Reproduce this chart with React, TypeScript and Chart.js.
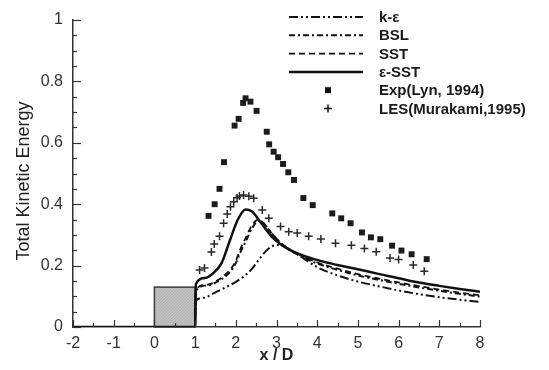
import React, { useEffect, useRef } from 'react';
import { Chart, registerables } from 'chart.js';

Chart.register(...registerables);

// Model curves: total kinetic energy along the wake centreline
const kEpsX = [1, 1.02, 1.2, 1.5, 1.7, 2.0, 2.2, 2.4, 2.6, 2.8, 3.0, 3.2, 3.5, 4.0, 4.5, 5.0, 5.5, 6.0, 6.5, 7.0, 7.5, 8.0];
const kEpsY = [0, 0.085, 0.095, 0.113, 0.126, 0.147, 0.165, 0.19, 0.225, 0.255, 0.267, 0.262, 0.238, 0.195, 0.168, 0.148, 0.133, 0.119, 0.107, 0.097, 0.089, 0.082];

const bslX = [1, 1.02, 1.3, 1.55, 1.85, 2.0, 2.1, 2.25, 2.4, 2.55, 2.7, 2.9, 3.2, 3.5, 4.0, 4.5, 5.0, 5.5, 6.0, 6.5, 7.0, 7.5, 8.0];
const bslY = [0, 0.118, 0.135, 0.148, 0.178, 0.208, 0.24, 0.28, 0.322, 0.345, 0.335, 0.302, 0.262, 0.237, 0.207, 0.186, 0.168, 0.154, 0.141, 0.129, 0.118, 0.108, 0.099];

const sstX = [1, 1.02, 1.3, 1.55, 1.85, 2.0, 2.1, 2.25, 2.4, 2.55, 2.7, 2.9, 3.2, 3.5, 4.0, 4.5, 5.0, 5.5, 6.0, 6.5, 7.0, 7.5, 8.0];
const sstY = [0, 0.122, 0.138, 0.152, 0.185, 0.215, 0.25, 0.292, 0.332, 0.35, 0.336, 0.302, 0.264, 0.24, 0.21, 0.19, 0.172, 0.158, 0.145, 0.133, 0.122, 0.112, 0.103];

const eSstX = [-2, 1, 1.02, 1.25, 1.45, 1.65, 1.85, 2.05, 2.24, 2.4, 2.6, 2.9, 3.3, 3.9, 4.5, 5.0, 5.5, 6.0, 6.5, 7.0, 7.5, 8.0];
const eSstY = [0, 0, 0.14, 0.16, 0.176, 0.208, 0.28, 0.35, 0.383, 0.376, 0.343, 0.292, 0.253, 0.222, 0.202, 0.188, 0.173, 0.159, 0.145, 0.134, 0.124, 0.115];

// Measurements and LES reference data
const expX = [1.33, 1.48, 1.6, 1.71, 1.97, 2.07, 2.18, 2.24, 2.36, 2.51, 2.76, 2.82, 2.93, 3.04, 3.16, 3.29, 3.43, 3.66, 3.89, 4.37, 4.59, 4.82, 5.1, 5.32, 5.55, 5.84, 6.07, 6.32, 6.69];
const expY = [0.362, 0.4, 0.45, 0.537, 0.656, 0.678, 0.73, 0.745, 0.734, 0.704, 0.636, 0.595, 0.571, 0.553, 0.531, 0.504, 0.479, 0.42, 0.397, 0.37, 0.354, 0.338, 0.308, 0.292, 0.286, 0.265, 0.249, 0.237, 0.221];

const lesX = [1.11, 1.23, 1.4, 1.47, 1.6, 1.7, 1.79, 1.87, 1.95, 2.03, 2.09, 2.19, 2.32, 2.44, 2.65, 2.81, 3.1, 3.3, 3.51, 3.79, 4.09, 4.45, 4.84, 5.16, 5.45, 5.79, 6.0, 6.36, 6.63];
const lesY = [0.186, 0.192, 0.244, 0.27, 0.296, 0.338, 0.368, 0.392, 0.408, 0.421, 0.427, 0.43, 0.426, 0.419, 0.381, 0.354, 0.327, 0.31, 0.306, 0.296, 0.287, 0.273, 0.266, 0.256, 0.245, 0.225, 0.22, 0.202, 0.182];

const seriesLabels = ['k-\u03b5', 'BSL', 'SST', '\u03b5-SST', 'Exp(Lyn, 1994)', 'LES(Murakami,1995)'];
const yTitle = 'Total Kinetic Energy';
const xTitle = 'x / D';

// Axis ranges and the square cylinder (x from 0 to 1)
const xRange = [-2, 8];
const yRange = [0, 1];
const bodyX = [0, 1];
const bodyTop = 0.13;

const FONT = '"Liberation Sans", Arial, sans-serif';

const pts = (xs: number[], ys: number[]) => xs.map((x, i) => ({ x, y: ys[i] }));

// Square cylinder drawn as a shaded block behind the curves
const bodyPlugin = {
  id: 'body',
  beforeDatasetsDraw(chart: any) {
    const { ctx, scales } = chart;
    const x0 = scales.x.getPixelForValue(bodyX[0]);
    const x1 = scales.x.getPixelForValue(bodyX[1]);
    const y0 = scales.y.getPixelForValue(0);
    const y1 = scales.y.getPixelForValue(bodyTop);
    ctx.save();
    ctx.fillStyle = '#c4c4c4';
    ctx.fillRect(x0, y1, x1 - x0, y0 - y1);
    ctx.beginPath();
    ctx.rect(x0, y1, x1 - x0, y0 - y1);
    ctx.clip();
    ctx.strokeStyle = '#a8a8a8';
    ctx.lineWidth = 1;
    for (let s = -60; s < 120; s += 3) {
      ctx.beginPath();
      ctx.moveTo(x0 + s, y0);
      ctx.lineTo(x0 + s + (y0 - y1), y1);
      ctx.stroke();
    }
    ctx.restore();
    ctx.save();
    ctx.strokeStyle = '#3a3a3a';
    ctx.lineWidth = 1.5;
    ctx.strokeRect(x0, y1, x1 - x0, y0 - y1);
    ctx.restore();
  },
};

// Inward-pointing major and minor ticks, plus the vertical axis title
const ticksPlugin = {
  id: 'innerTicks',
  afterDraw(chart: any) {
    const { ctx, scales } = chart;
    const xs = scales.x;
    const ys = scales.y;
    const yb = ys.getPixelForValue(0);
    const xl = xs.getPixelForValue(xRange[0]);
    ctx.save();
    ctx.strokeStyle = '#333';
    ctx.lineWidth = 1.2;
    for (let i = 0; i <= (xRange[1] - xRange[0]) * 2; i++) {
      const v = xRange[0] + i * 0.5;
      const px = Math.round(xs.getPixelForValue(v)) + 0.5;
      const len = i % 2 === 0 ? 7 : 4;
      ctx.beginPath();
      ctx.moveTo(px, yb);
      ctx.lineTo(px, yb - len);
      ctx.stroke();
    }
    for (let i = 0; i <= 20; i++) {
      const v = i * 0.05;
      const py = Math.round(ys.getPixelForValue(v)) + 0.5;
      const len = i % 4 === 0 ? 8 : 4;
      ctx.beginPath();
      ctx.moveTo(xl, py);
      ctx.lineTo(xl + len, py);
      ctx.stroke();
    }
    ctx.translate(24, 181);
    ctx.rotate(-Math.PI / 2);
    ctx.fillStyle = '#222';
    ctx.font = `18px ${FONT}`;
    ctx.textAlign = 'center';
    ctx.textBaseline = 'middle';
    ctx.fillText(yTitle, 0, 0);
    ctx.restore();
  },
};

// Legend in the upper right with line samples and marker glyphs
const legendPlugin = {
  id: 'sideLegend',
  afterDraw(chart: any) {
    const { ctx } = chart;
    const lineX0 = 289;
    const lineX1 = 363;
    const markX = 328;
    const textX = 379;
    const top = 17;
    const step = 18.3;
    ctx.save();
    chart.data.datasets.forEach((ds: any, i: number) => {
      const y = top + i * step;
      ctx.strokeStyle = '#111';
      ctx.fillStyle = '#111';
      if (ds.showLine) {
        ctx.lineWidth = ds.borderWidth;
        ctx.setLineDash(ds.borderDash || []);
        ctx.beginPath();
        ctx.moveTo(lineX0, y);
        ctx.lineTo(lineX1, y);
        ctx.stroke();
        ctx.setLineDash([]);
      } else if (ds.pointStyle === 'rect') {
        ctx.fillRect(markX - 3, y - 3, 6, 6);
      } else {
        ctx.lineWidth = 1.5;
        ctx.beginPath();
        ctx.moveTo(markX - 4, y);
        ctx.lineTo(markX + 4, y);
        ctx.moveTo(markX, y - 4);
        ctx.lineTo(markX, y + 4);
        ctx.stroke();
      }
      ctx.fillStyle = '#1a1a1a';
      ctx.font = `bold 15px ${FONT}`;
      ctx.textBaseline = 'middle';
      ctx.textAlign = 'left';
      ctx.fillText(ds.label, textX, y + 1);
    });
    ctx.restore();
  },
};

export default function App() {
  const ref = useRef<HTMLCanvasElement | null>(null);

  useEffect(() => {
    if (!ref.current) return;
    const lineDs = (i: number, xs: number[], ys: number[], dash: number[], width: number) => ({
      label: seriesLabels[i],
      data: pts(xs, ys),
      showLine: true,
      borderColor: '#111',
      borderWidth: width,
      borderDash: dash,
      pointRadius: 0,
      cubicInterpolationMode: 'monotone',
      fill: false,
    });
    const chart = new Chart(ref.current, {
      type: 'scatter',
      data: {
        datasets: [
          lineDs(0, kEpsX, kEpsY, [9, 3, 2, 3, 2, 3], 2),
          lineDs(1, bslX, bslY, [6, 3, 2, 3], 2),
          lineDs(2, sstX, sstY, [6, 4], 1.8),
          lineDs(3, eSstX, eSstY, [], 2.5),
          {
            label: seriesLabels[4],
            data: pts(expX, expY),
            showLine: false,
            pointStyle: 'rect',
            pointRadius: 4.2,
            pointBackgroundColor: '#1c1c1c',
            pointBorderColor: '#1c1c1c',
            pointBorderWidth: 0,
          },
          {
            label: seriesLabels[5],
            data: pts(lesX, lesY),
            showLine: false,
            pointStyle: 'cross',
            pointRadius: 4,
            pointBorderColor: '#2a2a2a',
            pointBorderWidth: 1.5,
          },
        ] as any,
      },
      options: {
        responsive: false,
        animation: false,
        events: [],
        layout: { padding: { top: 20, right: 69, left: 0, bottom: 0 } },
        plugins: { legend: { display: false }, tooltip: { enabled: false } },
        scales: {
          x: {
            type: 'linear',
            min: xRange[0],
            max: xRange[1],
            afterFit: (s: any) => { s.height = 43; },
            grid: { display: false, drawTicks: false },
            border: { display: true, color: '#333', width: 1.5 },
            ticks: {
              stepSize: 1,
              padding: 7,
              color: '#333',
              font: { family: FONT, size: 16 },
            },
            title: {
              display: true,
              text: xTitle,
              color: '#222',
              font: { family: FONT, size: 16, weight: 'bold' },
              padding: { top: 0, bottom: 5 },
            },
          },
          y: {
            type: 'linear',
            min: yRange[0],
            max: yRange[1],
            afterFit: (s: any) => { s.width = 73; },
            grid: { display: false, drawTicks: false },
            border: { display: true, color: '#333', width: 1.5 },
            ticks: {
              stepSize: 0.2,
              padding: 10,
              color: '#333',
              font: { family: FONT, size: 16 },
              callback: (v: any) => String(Number(Number(v).toFixed(1))),
            },
          },
        },
      } as any,
      plugins: [bodyPlugin, ticksPlugin, legendPlugin],
    });
    return () => chart.destroy();
  }, []);

  return (
    <div style={{ position: 'absolute', left: 0, top: 0, width: 549, height: 370, background: '#fff' }}>
      <canvas ref={ref} width={549} height={370} style={{ display: 'block' }} />
    </div>
  );
}
